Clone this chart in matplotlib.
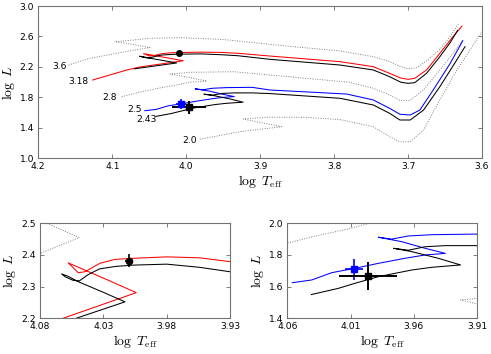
import numpy as np
from matplotlib import pyplot as plt

plt.rcParams['mathtext.fontset'] = 'cm'
plt.rcParams['font.family'] = 'DejaVu Sans'

## Evolutionary tracks (log Teff, log L)
t36 = [4.159, 4.130, 4.080, 4.049, 4.0747, 4.096, 4.072, 4.049, 4.008, 3.95, 3.86,
       3.792, 3.747, 3.725, 3.712, 3.700, 3.688, 3.675, 3.657, 3.643, 3.631]
l36 = [2.225, 2.313, 2.405, 2.455, 2.500, 2.531, 2.553, 2.576, 2.584, 2.560, 2.470,
       2.410, 2.334, 2.270, 2.210, 2.175, 2.190, 2.280, 2.430, 2.600, 2.780]

t318r = [4.1265, 4.0805, 4.064, 4.004, 4.026, 4.0577, 4.0498, 4.0445, 4.0326, 4.0208,
         4.0089, 3.980, 3.954, 3.930, 3.887, 3.792, 3.747, 3.725, 3.710, 3.700, 3.691,
         3.675, 3.657, 3.641, 3.627]
l318r = [2.028, 2.159, 2.197, 2.281, 2.320, 2.375, 2.344, 2.347, 2.374, 2.386,
         2.389, 2.394, 2.391, 2.379, 2.343, 2.269, 2.203, 2.116, 2.055, 2.037, 2.050,
         2.160, 2.379, 2.576, 2.737]

t318k = [4.070, 4.0537, 4.0129, 4.030, 4.050, 4.058, 4.063, 4.060, 4.054, 4.049,
         4.042, 4.033, 4.020, 4.006, 3.980, 3.954, 3.930, 3.887, 3.792, 3.747,
         3.725, 3.710, 3.700, 3.691, 3.675, 3.657, 3.643, 3.633]
l318k = [2.175, 2.197, 2.252, 2.282, 2.316, 2.333, 2.340, 2.331, 2.320, 2.318,
         2.338, 2.356, 2.364, 2.368, 2.371, 2.361, 2.347, 2.300, 2.225, 2.160,
         2.072, 2.000, 1.984, 1.993, 2.116, 2.334, 2.520, 2.680]

t28 = [4.0873, 4.059, 4.035, 4.014, 3.995, 3.972, 3.990, 4.0175, 4.022, 3.995,
       3.936, 3.887, 3.779, 3.747, 3.725, 3.711, 3.698, 3.679, 3.657, 3.639, 3.626]
l28 = [1.809, 1.877, 1.925, 1.960, 2.000, 2.015, 2.050, 2.100, 2.107, 2.129,
       2.137, 2.094, 1.998, 1.919, 1.831, 1.760, 1.758, 1.897, 2.160, 2.379, 2.553]

t25 = [4.056, 4.0407, 4.0249, 4.0065, 3.988, 3.967, 3.951, 3.935, 3.951, 3.9696,
       3.988, 3.9775, 3.9643, 3.9458, 3.911, 3.887, 3.783, 3.747, 3.725, 3.711,
       3.697, 3.684, 3.666, 3.643, 3.626]
l25 = [1.625, 1.642, 1.688, 1.716, 1.747, 1.779, 1.800, 1.810, 1.842, 1.884,
       1.912, 1.900, 1.920, 1.928, 1.932, 1.897, 1.844, 1.766, 1.657, 1.578,
       1.569, 1.634, 1.897, 2.247, 2.544]

t243 = [4.041, 4.0197, 4.0065, 3.988, 3.9616, 3.9458, 3.923, 3.9406, 3.9616, 3.976,
        3.9643, 3.951, 3.935, 3.911, 3.887, 3.792, 3.747, 3.725, 3.711, 3.697,
        3.679, 3.657, 3.637, 3.623]
l243 = [1.550, 1.589, 1.621, 1.663, 1.705, 1.722, 1.737, 1.779, 1.821, 1.842,
        1.830, 1.852, 1.859, 1.859, 1.850, 1.788, 1.700, 1.591, 1.503, 1.503,
        1.634, 1.940, 2.247, 2.466]

t20 = [3.9815, 3.927, 3.871, 3.923, 3.891, 3.837, 3.792, 3.747, 3.725, 3.711,
       3.697, 3.679, 3.657, 3.634, 3.612, 3.600]
l20 = [1.250, 1.350, 1.415, 1.516, 1.540, 1.538, 1.508, 1.415, 1.284, 1.215,
       1.218, 1.372, 1.766, 2.160, 2.488, 2.660]

## Observed stars
star_t = [4.0097, 4.007, 3.9964]
star_l = [2.382, 1.709, 1.669]
star_et = [0.003, 0.007, 0.023]
star_el = [0.021, 0.065, 0.088]

tracks = [(t36, l36, '3.6', 'dot'), (t318r, l318r, '3.18', 'red'),
          (t318k, l318k, None, 'black'), (t28, l28, '2.8', 'dot'),
          (t25, l25, '2.5', 'blue'), (t243, l243, '2.43', 'black'),
          (t20, l20, '2.0', 'dot')]
label_off = {'3.6': (-1.5, -1), '3.18': (-3, -1), '2.8': (-3.5, -0.5),
             '2.5': (-2, 1), '2.43': (0.5, -2), '2.0': (-2.5, -1)}

W, H = 491, 354
fig = plt.figure(figsize=(W/100, H/100), dpi=100)
ax1 = fig.add_axes([38.3/W, 1-158.3/H, 443.7/W, 152.3/H])
ax2 = fig.add_axes([40/W, 1-318.3/H, 190/W, 95/H])
ax3 = fig.add_axes([287.3/W, 1-318.3/H, 189.7/W, 95/H])

def draw(ax, big=False):
    for t, l, name, sty in tracks:
        if sty == 'dot':
            ax.plot(t, l, ls=(0, (1, 1.5)), lw=0.7, color='0.5')
        else:
            ax.plot(t, l, '-', lw=0.75, color=sty)
    ax.errorbar(star_t[0], star_l[0], xerr=star_et[0], yerr=star_el[0], fmt='o',
                color='black', ms=4 if big else 4.5, elinewidth=1.2, capsize=0)
    ax.errorbar(star_t[1], star_l[1], xerr=star_et[1], yerr=star_el[1], fmt='s',
                color='blue', ms=4, elinewidth=1.2, capsize=0)
    ax.errorbar(star_t[2], star_l[2], xerr=star_et[2], yerr=star_el[2], fmt='s',
                color='black', ms=4 if big else 4.5, elinewidth=1.4, capsize=0)
    ax.tick_params(direction='in', top=True, right=True, length=3, width=0.6,
                   color='0.4', labelsize=6.6, pad=3)
    for s in ax.spines.values():
        s.set_color('0.45')
        s.set_linewidth(0.8)
    ax.set_xlabel(r'$\log\ T_{\rm eff}$', fontsize=10, labelpad=1)
    ax.set_ylabel(r'$\log\ L$', fontsize=10, labelpad=2)

draw(ax1, big=True)
for t, l, name, sty in tracks:
    if name:
        ax1.annotate(name, xy=(t[0], l[0]), xytext=label_off[name],
                     textcoords='offset points', ha='right', va='center', fontsize=6.6)
ax1.set_xlim(4.2, 3.6)
ax1.set_ylim(1.0, 3.0)
ax1.set_xticks([4.2, 4.1, 4.0, 3.9, 3.8, 3.7, 3.6])
ax1.set_yticks([1.0, 1.4, 1.8, 2.2, 2.6, 3.0])

draw(ax2)
ax2.set_xlim(4.08, 3.93)
ax2.set_ylim(2.2, 2.5)
ax2.set_xticks([4.08, 4.03, 3.98, 3.93])
ax2.set_yticks([2.2, 2.3, 2.4, 2.5])

draw(ax3)
ax3.set_xlim(4.06, 3.91)
ax3.set_ylim(1.4, 2.0)
ax3.set_xticks([4.06, 4.01, 3.96, 3.91])
ax3.set_yticks([1.4, 1.6, 1.8, 2.0])

fig.savefig('out.png', dpi=100)
